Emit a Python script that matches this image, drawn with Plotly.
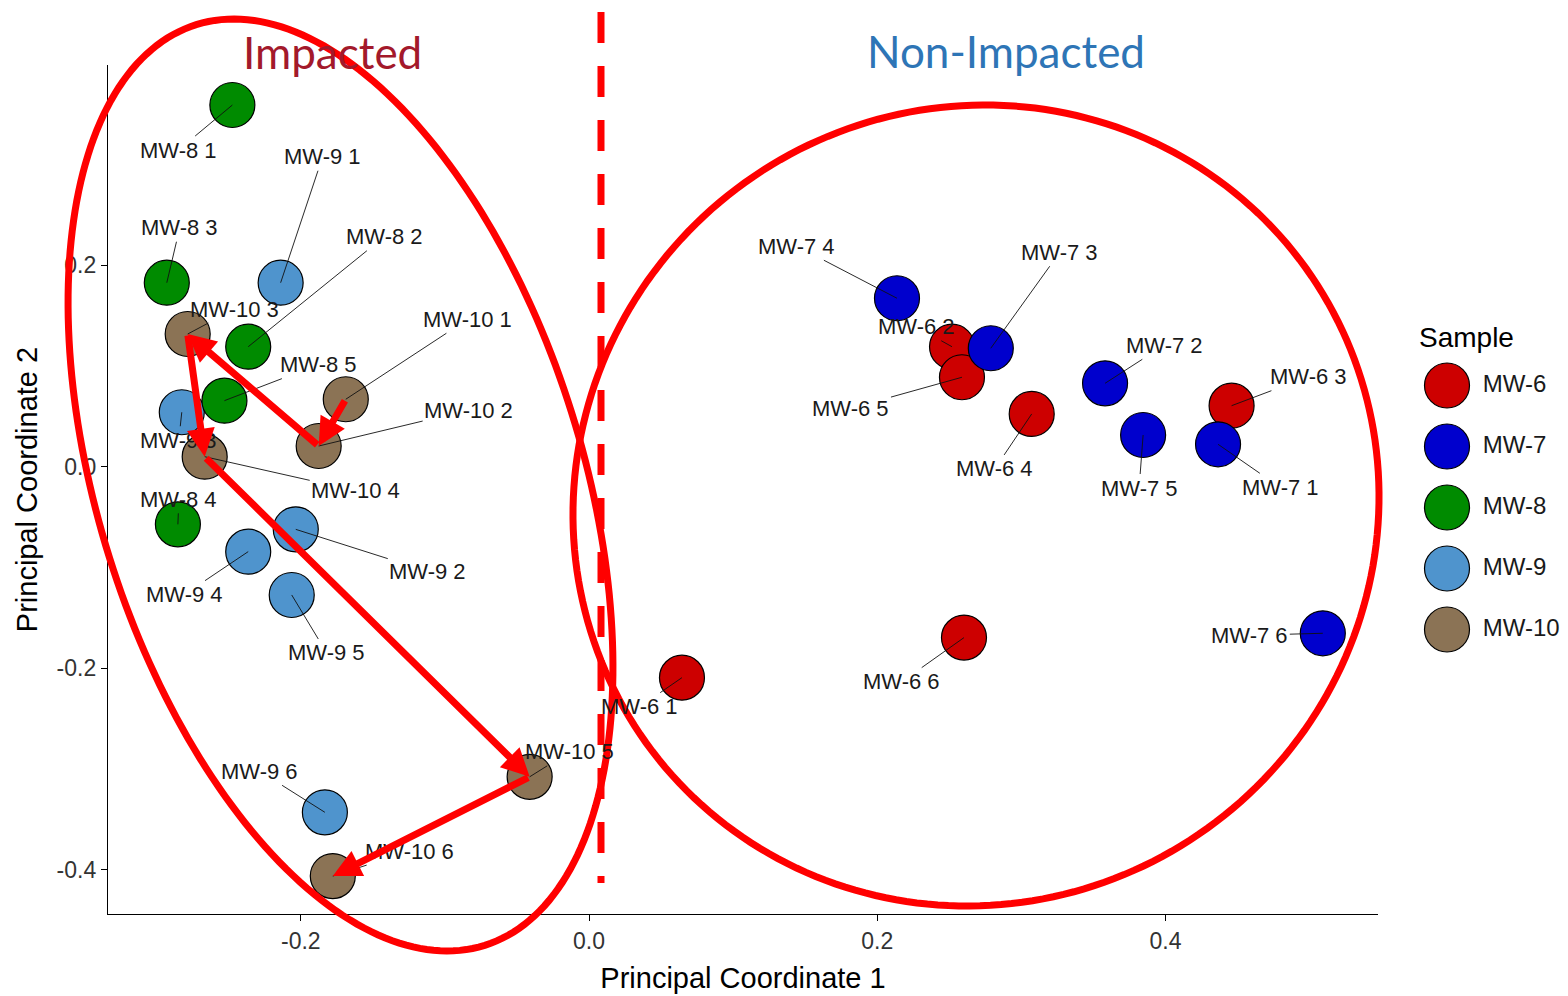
import numpy as np
import plotly.graph_objects as go

# ---------------- data ----------------
groups = ["MW-6", "MW-7", "MW-8", "MW-9", "MW-10"]
group_colors = ["#CD0000", "#0000CD", "#008B00", "#4F94CD", "#8B7355"]

mw6_pc1 = [0.0645, 0.2519, 0.4459, 0.3072, 0.2588, 0.2602]
mw6_pc2 = [-0.2093, 0.1190, 0.0605, 0.0523, 0.0887, -0.1696]
mw7_pc1 = [0.4365, 0.3581, 0.2788, 0.2137, 0.3845, 0.5092]
mw7_pc2 = [0.0222, 0.0827, 0.1175, 0.1671, 0.0314, -0.1653]
mw8_pc1 = [-0.2475, -0.2365, -0.2930, -0.2853, -0.2530]
mw8_pc2 = [0.3588, 0.1190, 0.1825, -0.0572, 0.0655]
mw9_pc1 = [-0.2140, -0.2035, -0.2826, -0.2365, -0.2063, -0.1833]
mw9_pc2 = [0.1825, -0.0622, 0.0540, -0.0843, -0.1273, -0.3429]
mw10_pc1 = [-0.1688, -0.1876, -0.2785, -0.2667, -0.0412, -0.1778]
mw10_pc2 = [0.0669, 0.0205, 0.1316, 0.0099, -0.3077, -0.4062]

x_tickvals = [-0.2, 0.0, 0.2, 0.4]
x_ticktext = ["-0.2", "0.0", "0.2", "0.4"]
y_tickvals = [-0.4, -0.2, 0.0, 0.2]
y_ticktext = ["-0.4", "-0.2", "0.0", "0.2"]

pc1 = {"MW-6": mw6_pc1, "MW-7": mw7_pc1, "MW-8": mw8_pc1, "MW-9": mw9_pc1, "MW-10": mw10_pc1}
pc2 = {"MW-6": mw6_pc2, "MW-7": mw7_pc2, "MW-8": mw8_pc2, "MW-9": mw9_pc2, "MW-10": mw10_pc2}
color_of = dict(zip(groups, group_colors))

# ---------------- label placement (pixel offsets, like ggrepel) ----------------
label_offsets = {
    "MW-6": [(-42, 29), (-36, -20), (77, -29), (-37, 55), (-111, 31), (-62, 44)],
    "MW-7": [(62, 43), (59, -38), (69, -96), (-100, -52), (-4, 53), (-73, 2)],
    "MW-8": [(-54, 45), (136, -110), (13, -55), (1, -25), (94, -36)],
    "MW-9": [(42, -126), (132, 42), (-3, 28), (-64, 43), (35, 58), (-65, -41)],
    "MW-10": [(122, -80), (150, -36), (47, -25), (151, 34), (40, -25), (77, -25)],
}

FONT = "Liberation Sans, Arial, Helvetica, sans-serif"
W, H = 1568, 996
ML, MR, MT, MB = 108, 8, 65, 82
PW, PH = W - ML - MR, H - MT - MB
PLOT_RIGHT = 1378


def px_to_paper(px, py):
    return ((px - ML) / PW, (H - MB - py) / PH)


fig = go.Figure()

draw_order = ["MW-6", "MW-7", "MW-9", "MW-8", "MW-10"]
for g in draw_order:
    fig.add_trace(go.Scatter(
        x=pc1[g], y=pc2[g], mode="markers", name=g, showlegend=False,
        marker=dict(size=45, color=color_of[g], line=dict(color="black", width=1.2)),
        hoverinfo="skip",
    ))

annotations = []
for g in groups:
    for i, (xv, yv) in enumerate(zip(pc1[g], pc2[g])):
        dx, dy = label_offsets[g][i]
        annotations.append(dict(
            x=xv, y=yv, xref="x", yref="y", text=f"{g} {i + 1}",
            showarrow=True, arrowhead=0, arrowwidth=0.9, arrowcolor="#111111",
            ax=dx, ay=dy, standoff=0, startstandoff=0,
            font=dict(family=FONT, size=22, color="#1a1a1a"),
        ))

# red arrows following MW-10 through time
for i in range(len(mw10_pc1) - 1):
    annotations.append(dict(
        x=mw10_pc1[i + 1], y=mw10_pc2[i + 1], xref="x", yref="y",
        ax=mw10_pc1[i], ay=mw10_pc2[i], axref="x", ayref="y",
        text="", showarrow=True, arrowhead=2, arrowsize=0.8, arrowwidth=7,
        arrowcolor="#FF0000", standoff=0, startstandoff=0,
    ))

# group titles
for txt, cx, cy, col in [("Impacted", 332, 52, "#A3192B"), ("Non-Impacted", 1006, 51, "#2E75B6")]:
    px_, py_ = px_to_paper(cx, cy)
    annotations.append(dict(
        x=px_, y=py_, xref="paper", yref="paper", text=txt, showarrow=False,
        xanchor="center", yanchor="middle",
        font=dict(family="Lato, Open Sans, sans-serif", size=44, color=col),
    ))

# legend title
lx, ly = px_to_paper(1417, 338)
annotations.append(dict(
    x=lx, y=ly, xref="paper", yref="paper", text="Sample", showarrow=False,
    xanchor="left", yanchor="middle", font=dict(family=FONT, size=28, color="black"),
))

# legend keys on a hidden helper axis
fig.add_trace(go.Scatter(
    x=[0] * len(groups), y=list(range(len(groups))), xaxis="x2", yaxis="y2",
    mode="markers+text", text=["\u00a0" + g for g in groups], textposition="middle right",
    textfont=dict(family=FONT, size=24, color="#1a1a1a"),
    marker=dict(size=45, color=group_colors, line=dict(color="black", width=1.2)),
    showlegend=False, hoverinfo="skip",
))


def ellipse_path(cx, cy, a, b, phi_deg, n=240):
    t = np.linspace(0, 2 * np.pi, n, endpoint=False)
    phi = np.radians(phi_deg)
    xs = cx + a * np.cos(t) * np.cos(phi) - b * np.sin(t) * np.sin(phi)
    ys = cy + a * np.cos(t) * np.sin(phi) + b * np.sin(t) * np.cos(phi)
    pts = [px_to_paper(x, y) for x, y in zip(xs, ys)]
    return "M " + " L ".join(f"{x:.5f},{y:.5f}" for x, y in pts) + " Z"


shapes = [
    dict(type="path", xref="paper", yref="paper", layer="above",
         path=ellipse_path(340.5, 485, 482.4, 242.2, 72.6),
         line=dict(color="#FF0000", width=7)),
    dict(type="path", xref="paper", yref="paper", layer="above",
         path=ellipse_path(976, 505.5, 406.4, 397.1, -37.2),
         line=dict(color="#FF0000", width=7)),
]
dx0, dy0 = px_to_paper(601, 12)
dx1, dy1 = px_to_paper(601, 883)
shapes.append(dict(type="line", xref="paper", yref="paper", layer="above",
                   x0=dx0, y0=dy0, x1=dx1, y1=dy1,
                   line=dict(color="#FF0000", width=7, dash="31px,23px")))

axis_common = dict(
    showline=True, linecolor="black", linewidth=1.3, mirror=False,
    ticks="outside", ticklen=6, tickwidth=1.3, tickcolor="black",
    showgrid=False, zeroline=False,
    tickfont=dict(family=FONT, size=23, color="#333333"),
)

fig.update_layout(
    width=W, height=H,
    margin=dict(l=ML, r=MR, t=MT, b=MB),
    paper_bgcolor="white", plot_bgcolor="white",
    showlegend=False,
    xaxis=dict(
        axis_common, domain=[0, (PLOT_RIGHT - ML) / PW],
        range=[-0.3338, 0.5475], tickvals=x_tickvals, ticktext=x_ticktext,
        title=dict(text="Principal Coordinate 1", standoff=14,
                   font=dict(family=FONT, size=29, color="black")),
    ),
    yaxis=dict(
        axis_common, range=[-0.4438, 0.3985], tickvals=y_tickvals, ticktext=y_ticktext,
        title=dict(text="Principal Coordinate 2", standoff=10,
                   font=dict(family=FONT, size=29, color="black")),
    ),
    xaxis2=dict(domain=[(1420 - ML) / PW, 1.0], range=[-27, 113], visible=False,
                anchor="y2", fixedrange=True),
    yaxis2=dict(domain=[(H - MB - 660) / PH, (H - MB - 355) / PH], range=[4.5, -0.5],
                visible=False, anchor="x2", fixedrange=True),
    annotations=annotations,
    shapes=shapes,
)

fig.write_html("out.html", config={"displayModeBar": False},
               post_script="document.body.style.margin='0';document.body.style.overflow='hidden';")
